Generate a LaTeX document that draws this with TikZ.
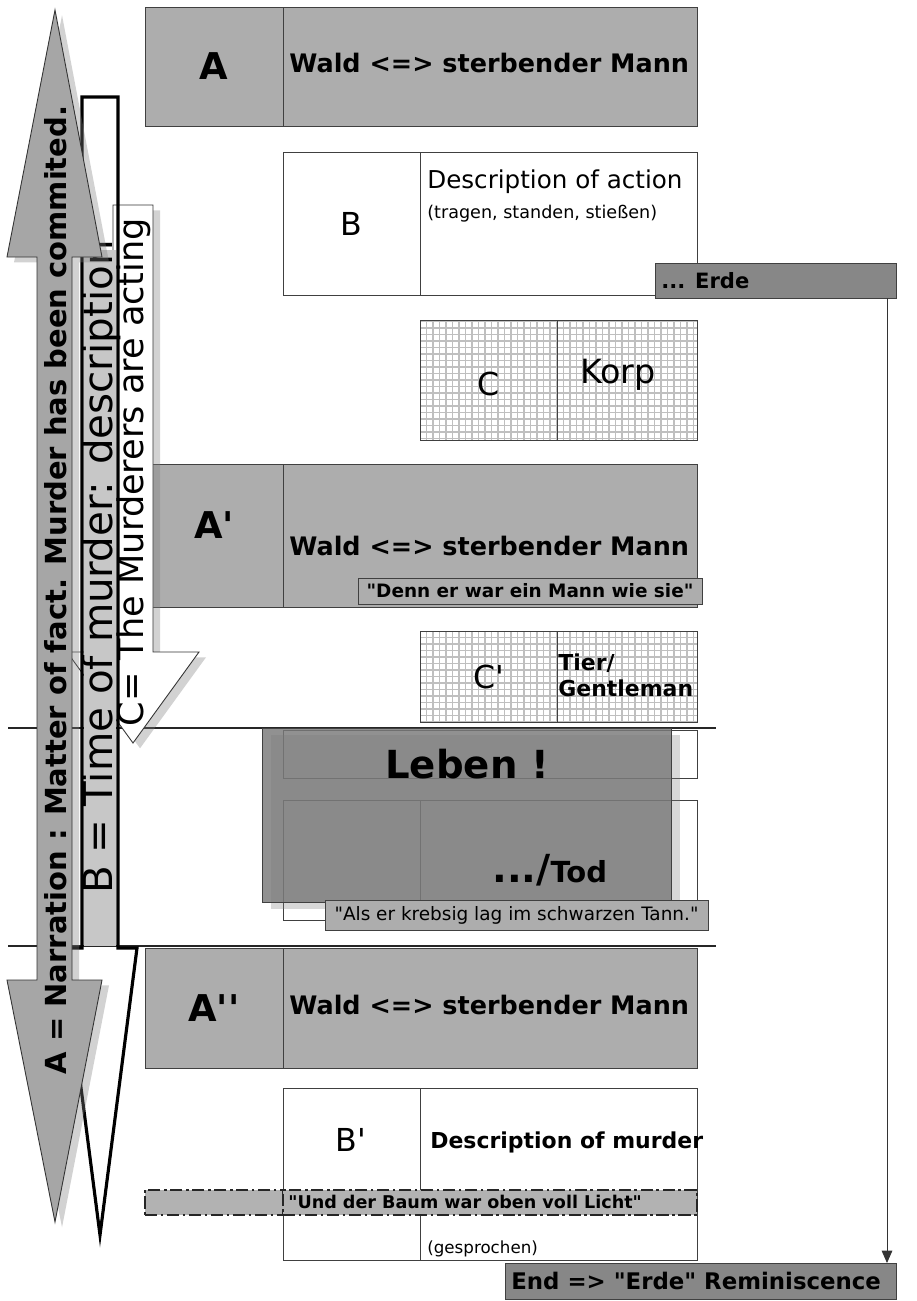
\documentclass[tikz,border=0pt]{standalone}
\usepackage{fontspec}
\setmainfont{DejaVu Sans}[Ligatures=TeXOff]
\usepackage{tikz}
\usetikzlibrary{arrows.meta,positioning,fit,shadows}

\begin{document}
\begin{tikzpicture}[
    x=0.02cm, y=-0.02cm,
    cell/.style={draw=black!75, line width=0.5pt, inner sep=0pt, outer sep=0pt},
    graybox/.style={cell, fill=black!32},
    darkbox/.style={cell, fill=black!47},
    whitebox/.style={cell, fill=white},
    gridbox/.style={cell, fill=white, path picture={\draw[black!25, line width=0.9pt, step=0.13cm] (path picture bounding box.south west) grid (path picture bounding box.north east);}},
    dashbox/.style={cell, fill=black!30, draw=black!85, line width=1.1pt, dash pattern=on 7pt off 2pt on 1.5pt off 2pt},
    bigletter/.style={font=\fontsize{21}{24}\selectfont\bfseries},
    letter/.style={font=\fontsize{18}{21}\selectfont},
    wald/.style={anchor=base west, inner sep=0pt, font=\fontsize{14.5}{17}\selectfont\bfseries},
    txt/.style={anchor=base west, inner sep=0pt},
    sepline/.style={line width=1.4pt, black!85},
    arrow/.style={-{Triangle[width=6pt,length=7pt]}, line width=0.5pt, draw=black!80},
    sidearrow/.style={draw=black!80, line width=0.5pt, drop shadow={shadow xshift=4pt, shadow yshift=-3pt, opacity=0.35}}
]
\fill[white] (0,0) rectangle (916,1301);
\useasboundingbox (0,0) rectangle (916,1301);

\node[graybox, fit={(145,7) (283,126)}] (a1) {};
\node[bigletter] (a1t) at (a1) {A};
\node[graybox, fit={(283,7) (697,126)}] (a2) {};
\node[wald] (a2t) at (289,72) {Wald <=> sterbender Mann};

\node[whitebox, fit={(283,152) (420,295)}] (b1) {};
\node[letter] (b1t) at (b1) {B};
\node[whitebox, fit={(420,152) (697,295)}] (b2) {};
\node[txt, font=\fontsize{14}{17}\selectfont] (b2t) at (427,188) {Description of action};
\node[txt, font=\fontsize{10}{12}\selectfont] (b2s) at (427,218) {(tragen, standen, stießen)};

\node[darkbox, fit={(655,263) (896,298)}] (erde) {};
\node[anchor=west, inner sep=0pt, font=\fontsize{12}{14}\selectfont\bfseries] (erdet) at (661,281) {... Erde};

\node[gridbox, fit={(420,320) (557,440)}] (c1) {};
\node[letter] (c1t) at ([yshift=-0.08cm]c1) {C};
\node[gridbox, fit={(557,320) (697,440)}] (c2) {};
\node[font=\fontsize{19}{22}\selectfont] (c2t) at ([xshift=-0.18cm, yshift=0.1cm]c2) {Korp};

\node[graybox, fit={(145,464) (283,607)}] (a3) {};
\node[bigletter] (a3t) at ([yshift=0.2cm]a3) {A'};
\node[graybox, fit={(283,464) (697,607)}] (a4) {};
\node[wald] (a4t) at (289,555) {Wald <=> sterbender Mann};
\node[graybox, fit={(358,578) (702,604)}] (denn) {};
\node[font=\fontsize{10.5}{12}\selectfont\bfseries] (dennt) at (denn) {"Denn er war ein Mann wie sie"};

\node[gridbox, fit={(420,631) (557,722)}] (c3) {};
\node[letter] (c3t) at (c3) {C'};
\node[gridbox, fit={(557,631) (697,722)}] (c4) {};
\node[anchor=west, inner sep=0pt, align=left, font=\fontsize{12.5}{15}\selectfont\bfseries] (c4t) at (558,675) {Tier/\\Gentleman};

\draw[sepline] (8,728) -- (716,728);

\node[whitebox, fit={(283,730) (697,778)}] (l1) {};
\node[whitebox, fit={(283,800) (420,920)}] (l2) {};
\node[whitebox, fit={(420,800) (697,920)}] (l3) {};
\node[cell, fit={(262,728) (671,902)}, fill=black!52, fill opacity=0.82, drop shadow={shadow xshift=5pt, shadow yshift=-4pt, opacity=0.3}] (leben) {};
\node[txt, font=\fontsize{22}{26}\selectfont\bfseries] (lebent) at (385,778) {Leben !};
\node[txt, font=\fontsize{22}{26}\selectfont\bfseries] (todt) at (492,882) {.../{\fontsize{16.5}{20}\selectfont Tod}};
\node[graybox, fit={(325,900) (708,930)}] (krebs) {};
\node[font=\fontsize{10.5}{12}\selectfont] (krebst) at (krebs) {"Als er krebsig lag im schwarzen Tann."};

\draw[sepline] (8,946) -- (716,946);

\node[graybox, fit={(145,948) (283,1068)}] (a5) {};
\node[bigletter] (a5t) at (a5) {A''};
\node[graybox, fit={(283,948) (697,1068)}] (a6) {};
\node[wald] (a6t) at (289,1014) {Wald <=> sterbender Mann};

\node[whitebox, fit={(283,1088) (420,1260)}] (b3) {};
\node[whitebox, fit={(420,1088) (697,1260)}] (b4) {};
\node[letter] (b3t) at (351,1140) {B'};
\node[txt, font=\fontsize{12.5}{15}\selectfont\bfseries] (b4t) at (430,1148) {Description of murder};
\node[dashbox, fit={(145,1190) (283,1215)}] (baum1) {};
\node[dashbox, fit={(283,1190) (697,1215)}] (baum2) {};
\node[anchor=west, inner sep=0pt, font=\fontsize{10}{12}\selectfont\bfseries] (baumt) at (288,1202) {"Und der Baum war oben voll Licht"};
\node[txt, font=\fontsize{9.5}{11}\selectfont] (gespr) at (427,1253) {(gesprochen)};

\node[darkbox, fit={(505,1263) (896,1299)}] (endbox) {};
\node[anchor=west, inner sep=0pt, font=\fontsize{13}{15}\selectfont\bfseries] (endt) at (511,1281) {End => "Erde" Reminiscence};

\draw[arrow] ([xshift=-0.18cm]erde.south east) -- ([xshift=-0.18cm]endbox.north east);

\filldraw[sidearrow, fill=white] (113,205) -- (153,205) -- (153,652) -- (199,652) -- (133,743) -- (67,652) -- (113,652) -- cycle;
\node[rotate=90, font=\fontsize{20}{24}\selectfont] (ctext) at (134,472) {C= The Murderers are acting};

\node[cell, draw=none, fill=black!22, fit={(84,250) (116,946)}] (bstrip) {};
\node[rotate=90, font=\fontsize{23}{27}\selectfont] (btext) at (101,567) {B = Time of murder: description};
\draw[line width=1.8pt, black] (82,97) -- (118,97) -- (118,948) -- (137,948) -- (100,1235) -- (63,948) -- (82,948) -- cycle;

\filldraw[sidearrow, fill=black!35] (55,10) -- (102,257) -- (72,257) -- (72,980) -- (102,980) -- (55,1222) -- (7,980) -- (37,980) -- (37,257) -- (7,257) -- cycle;
\node[rotate=90, font=\fontsize{16.5}{20}\selectfont\bfseries] (atext) at (56,590) {A = Narration : Matter of fact. Murder has been commited.};
\end{tikzpicture}
\end{document}
